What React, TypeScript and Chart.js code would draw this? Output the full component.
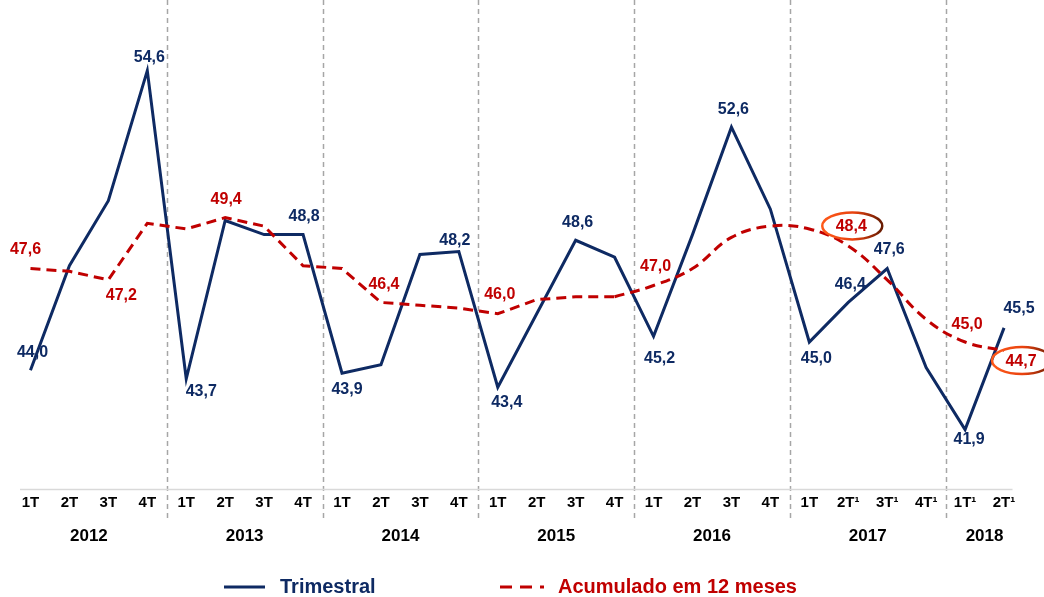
import React, { useEffect, useRef } from 'react';
import { Chart, registerables } from 'chart.js';

Chart.register(...registerables);

// ---------- data ----------
const years = ['2012', '2013', '2014', '2015', '2016', '2017', '2018'];
const quartersPerYear = [4, 4, 4, 4, 4, 4, 2];
const quarterLabels = [
  '1T', '2T', '3T', '4T',
  '1T', '2T', '3T', '4T',
  '1T', '2T', '3T', '4T',
  '1T', '2T', '3T', '4T',
  '1T', '2T', '3T', '4T',
  '1T', '2T¹', '3T¹', '4T¹',
  '1T¹', '2T¹',
];
const trimestral = [
  44.0, 47.7, 50.0, 54.6,
  43.7, 49.3, 48.8, 48.8,
  43.9, 44.2, 48.1, 48.2,
  43.4, 46.0, 48.6, 48.0,
  45.2, 48.8, 52.6, 49.7,
  45.0, 46.4, 47.6, 44.1,
  41.9, 45.5,
];
const acumulado = [
  47.6, 47.5, 47.2, 49.2,
  49.0, 49.4, 49.1, 47.7,
  47.6, 46.4, 46.3, 46.2,
  46.0, 46.5, 46.6, 46.6,
  47.0, 47.6, 48.7, 49.1,
  49.0, 48.4, 47.2, 45.8,
  45.0, 44.7,
];
const trimestralLabelled = [0, 3, 4, 7, 8, 11, 12, 14, 16, 18, 20, 21, 22, 24, 25];
const acumuladoLabelled = [0, 2, 5, 9, 12, 16, 21, 24, 25];
const acumuladoCircled = [21, 25];
const seriesNames = ['Trimestral', 'Acumulado em 12 meses'];

// ---------- styling / layout (not data) ----------
const NAVY = '#0e2a63';
const RED = '#c00000';
const FONT = '"Liberation Sans", Arial, sans-serif';
const SMOOTH_FROM = 15;

const trimOffsets: Record<number, [number, number]> = {
  0: [2, -18], 3: [2, -13], 4: [15, 13], 7: [1, -18], 8: [5, 16], 11: [-4, -11],
  12: [9, 15], 14: [2, -18], 16: [6, 22], 18: [2, -18], 20: [7, 17], 21: [2, -18],
  22: [2, -19], 24: [4, 10], 25: [15, -19],
};
const acumOffsets: Record<number, [number, number]> = {
  0: [-5, -19], 2: [13, 16], 5: [1, -18], 9: [3, -18], 12: [2, -19], 16: [2, -19],
  21: [3, -19], 24: [2, -17], 25: [17, 11],
};

const fmt = (v: number) => v.toFixed(1).replace('.', ',');

const decorPlugin = {
  id: 'decor',
  beforeDatasetsDraw(chart: any) {
    const ctx = chart.ctx;
    const xs = chart.scales.x;
    const area = chart.chartArea;
    ctx.save();
    // year separators
    ctx.strokeStyle = '#a6a6a6';
    ctx.lineWidth = 1.5;
    ctx.setLineDash([5, 4]);
    let idx = 0;
    for (let g = 0; g < quartersPerYear.length - 1; g++) {
      idx += quartersPerYear[g];
      const x = Math.round((xs.getPixelForValue(idx - 1) + xs.getPixelForValue(idx)) / 2) + 0.5;
      ctx.beginPath();
      ctx.moveTo(x, 0);
      ctx.lineTo(x, area.bottom + 31);
      ctx.stroke();
    }
    ctx.setLineDash([]);
    // axis line
    ctx.strokeStyle = '#d9d9d9';
    ctx.lineWidth = 1.5;
    ctx.beginPath();
    ctx.moveTo(area.left + 9, area.bottom + 0.5);
    ctx.lineTo(area.right - 11, area.bottom + 0.5);
    ctx.stroke();
    ctx.restore();
  },
  afterDatasetsDraw(chart: any) {
    const ctx = chart.ctx;
    const xs = chart.scales.x;
    const ys = chart.scales.y;
    const area = chart.chartArea;
    ctx.save();
    ctx.font = `bold 16px ${FONT}`;
    ctx.textAlign = 'center';
    ctx.textBaseline = 'middle';
    // labels
    trimestralLabelled.forEach((i) => {
      const [dx, dy] = trimOffsets[i] || [0, -18];
      ctx.fillStyle = NAVY;
      ctx.fillText(fmt(trimestral[i]), xs.getPixelForValue(i) + dx, ys.getPixelForValue(trimestral[i]) + dy);
    });
    acumuladoLabelled.forEach((i) => {
      const [dx, dy] = acumOffsets[i] || [0, -18];
      const cx = xs.getPixelForValue(i) + dx;
      const cy = ys.getPixelForValue(acumulado[i]) + dy;
      if (acumuladoCircled.includes(i)) {
        const rx = 30;
        const ry = 13.5;
        const grad = ctx.createLinearGradient(cx - rx, cy, cx + rx, cy);
        grad.addColorStop(0, '#ff5a1a');
        grad.addColorStop(0.55, '#e8420f');
        grad.addColorStop(1, '#6a1c02');
        ctx.strokeStyle = grad;
        ctx.lineWidth = 2.5;
        ctx.beginPath();
        ctx.ellipse(cx + 1, cy - 1, rx, ry, 0, 0, Math.PI * 2);
        ctx.stroke();
      }
      ctx.fillStyle = RED;
      ctx.fillText(fmt(acumulado[i]), cx, cy);
    });
    // year labels
    ctx.fillStyle = '#000';
    ctx.font = `bold 17px ${FONT}`;
    let start = 0;
    years.forEach((y, g) => {
      const end = start + quartersPerYear[g] - 1;
      const cx = (xs.getPixelForValue(start) + xs.getPixelForValue(end)) / 2;
      ctx.fillText(y, cx, area.bottom + 47);
      start = end + 1;
    });
    // legend
    const ly = 587;
    ctx.lineWidth = 3;
    ctx.strokeStyle = NAVY;
    ctx.beginPath();
    ctx.moveTo(224, ly);
    ctx.lineTo(265, ly);
    ctx.stroke();
    ctx.font = `bold 20px ${FONT}`;
    ctx.textAlign = 'left';
    ctx.fillStyle = NAVY;
    ctx.fillText(seriesNames[0], 280, ly);
    ctx.strokeStyle = RED;
    ctx.setLineDash([12, 8]);
    ctx.beginPath();
    ctx.moveTo(500, ly);
    ctx.lineTo(544, ly);
    ctx.stroke();
    ctx.setLineDash([]);
    ctx.fillStyle = RED;
    ctx.fillText(seriesNames[1], 558, ly);
    ctx.restore();
  },
};

export default function App() {
  const ref = useRef<HTMLCanvasElement | null>(null);
  useEffect(() => {
    document.body.style.margin = '0';
    const canvas = ref.current;
    if (!canvas) return;
    const straight = acumulado.map((v, i) => (i <= SMOOTH_FROM ? v : null));
    const smooth = acumulado.map((v, i) => (i >= SMOOTH_FROM ? v : null));
    const chart = new Chart(canvas, {
      type: 'line',
      data: {
        labels: quarterLabels,
        datasets: [
          {
            label: seriesNames[1],
            data: straight,
            borderColor: RED,
            borderWidth: 3,
            borderDash: [10, 6],
            pointRadius: 0,
            tension: 0,
            fill: false,
            spanGaps: false,
          },
          {
            label: seriesNames[1] + ' (cont.)',
            data: smooth,
            borderColor: RED,
            borderWidth: 3,
            borderDash: [10, 6],
            pointRadius: 0,
            tension: 0.4,
            fill: false,
            spanGaps: false,
          },
          {
            label: seriesNames[0],
            data: trimestral,
            borderColor: NAVY,
            borderWidth: 3,
            pointRadius: 0,
            tension: 0,
            fill: false,
          },
        ],
      },
      options: {
        responsive: false,
        animation: false,
        layout: { padding: { left: 11, right: 20.5, top: 0, bottom: 0 } },
        plugins: { legend: { display: false }, tooltip: { enabled: false } },
        scales: {
          x: {
            type: 'category',
            offset: true,
            grid: { display: false, drawTicks: false },
            border: { display: false },
            ticks: {
              autoSkip: false,
              maxRotation: 0,
              minRotation: 0,
              padding: 5,
              color: '#000',
              font: { family: FONT, size: 15, weight: 'bold' },
            },
            afterFit: (s: any) => {
              s.height = 108;
            },
          },
          y: { display: false, min: 39.8, max: 57.1 },
        },
      },
      plugins: [decorPlugin],
    });
    return () => chart.destroy();
  }, []);
  return <canvas ref={ref} width={1044} height={597} style={{ display: 'block' }} />;
}
